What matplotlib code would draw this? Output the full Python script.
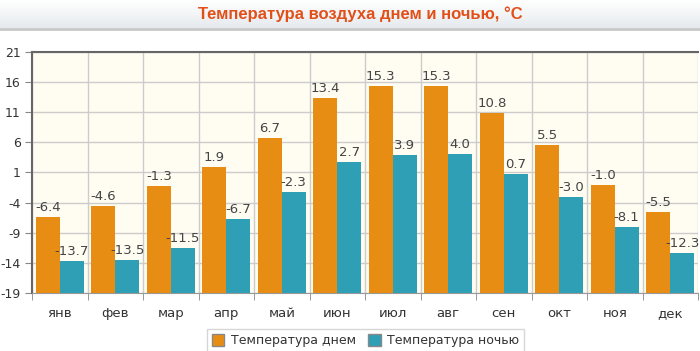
import matplotlib.pyplot as plt
import numpy as np
from matplotlib.patches import Rectangle

months = ['янв', 'фев', 'мар', 'апр', 'май', 'июн', 'июл', 'авг', 'сен', 'окт', 'ноя', 'дек']
day_temp = [-6.4, -4.6, -1.3, 1.9, 6.7, 13.4, 15.3, 15.3, 10.8, 5.5, -1.0, -5.5]
night_temp = [-13.7, -13.5, -11.5, -6.7, -2.3, 2.7, 3.9, 4.0, 0.7, -3.0, -8.1, -12.3]
y_ticks = [21, 16, 11, 6, 1, -4, -9, -14, -19]
y_base = -19

orange = '#e88d14'
teal = '#2e9fb5'

plt.rcParams['font.family'] = ['DejaVu Sans']
fig = plt.figure(figsize=(7, 3.51), dpi=100)

# title banner with gradient
bg = fig.add_axes([0, 1 - 28 / 351, 1, 28 / 351])
grad = np.linspace(1, 0, 50).reshape(-1, 1)
bg.imshow(grad, aspect='auto', cmap=plt.matplotlib.colors.LinearSegmentedColormap.from_list(
    'g', ['#e6eaee', '#ffffff']), extent=[0, 1, 0, 1])
bg.axis('off')
fig.add_artist(plt.Line2D([0, 1], [1 - 29 / 351, 1 - 29 / 351], color='#c8c8c8', lw=2))
fig.text(0.515, 1 - 14 / 351, 'Температура воздуха днем и ночью, °C', ha='center', va='center',
         color='#e2501a', fontsize=12, fontweight='bold',
         family=['Liberation Sans Narrow', 'Liberation Sans', 'DejaVu Sans'])

ax = fig.add_axes([32 / 700, 1 - 293 / 351, 666 / 700, 241 / 351])
ax.set_facecolor('#fffcf2')

x = np.arange(len(months))
w = 0.43
ax.bar(x - w / 2, np.array(day_temp) - y_base, w, bottom=y_base, color=orange, zorder=3)
ax.bar(x + w / 2, np.array(night_temp) - y_base, w, bottom=y_base, color=teal, zorder=3)

for i in range(len(months)):
    ax.text(x[i] - w / 2, day_temp[i] + 0.5, f'{day_temp[i]:.1f}', ha='center', va='bottom',
            fontsize=9.5, color='#444444', zorder=4)
    ax.text(x[i] + w / 2, night_temp[i] + 0.5, f'{night_temp[i]:.1f}', ha='center', va='bottom',
            fontsize=9.5, color='#444444', zorder=4)

ax.set_xlim(-0.5, len(months) - 0.5)
ax.set_ylim(-19, 21)
ax.set_yticks(y_ticks)
ax.set_yticklabels([str(t) for t in y_ticks])
ax.set_xticks(x)
ax.set_xticklabels(months)
ax.set_xticks(np.arange(-0.5, len(months)), minor=True)
ax.tick_params(axis='x', which='major', length=0, pad=10, labelsize=9.5, labelcolor='#333333')
ax.tick_params(axis='x', which='minor', length=5, color='#888888')
ax.tick_params(axis='y', length=5, color='#888888', labelsize=9, labelcolor='#333333', pad=3)

ax.grid(True, axis='y', color='#cccccc', lw=1, zorder=0)
ax.grid(True, axis='x', which='minor', color='#cccccc', lw=1, zorder=0)

ax.spines['top'].set_color('#666666')
ax.spines['top'].set_linewidth(1.5)
ax.spines['left'].set_color('#666666')
ax.spines['left'].set_linewidth(1.5)
ax.spines['right'].set_visible(False)
ax.spines['bottom'].set_color('#999999')

leg = fig.legend(handles=[Rectangle((0, 0), 1, 1, fc=orange, ec='#888888'),
                          Rectangle((0, 0), 1, 1, fc=teal, ec='#888888')],
                 labels=['Температура днем', 'Температура ночью'],
                 loc='upper center', bbox_to_anchor=(0.522, 1 - 323 / 351), ncol=2,
                 fontsize=9, frameon=True, fancybox=False, edgecolor='#cccccc',
                 handlelength=1.0, handleheight=1.0, handletextpad=0.5, columnspacing=1.0,
                 borderpad=0.4)
for t in leg.get_texts():
    t.set_color('#333333')

fig.savefig('out.png', dpi=100)
